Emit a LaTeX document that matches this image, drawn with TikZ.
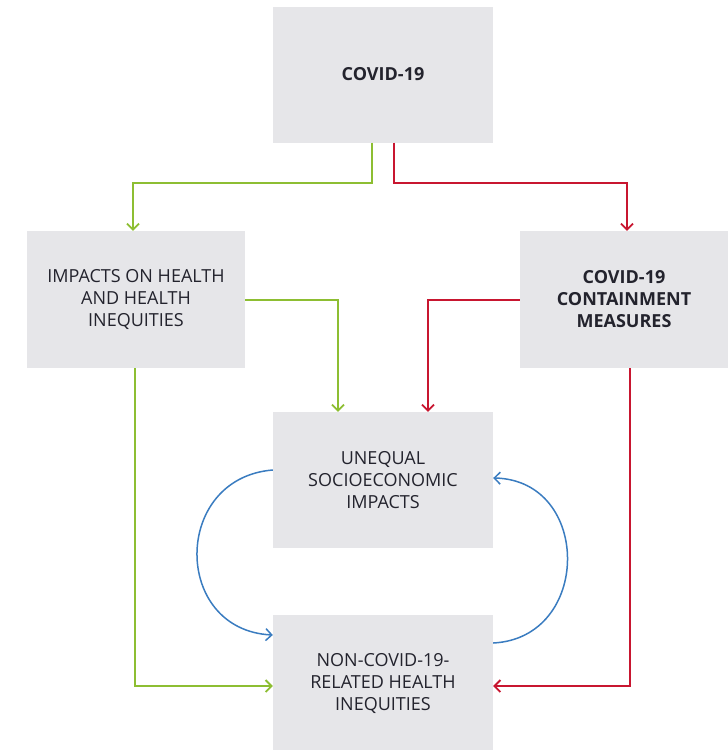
\documentclass[tikz,border=0pt]{standalone}
\usepackage{fontspec}
\setmainfont{Open Sans}
\usepackage{xcolor}
\usepackage{tikz}
\usetikzlibrary{arrows.meta, positioning, calc}
\definecolor{boxgrey}{RGB}{230,230,233}
\definecolor{hgreen}{RGB}{141,190,50}
\definecolor{hred}{RGB}{200,22,48}
\definecolor{hblue}{RGB}{58,124,192}
\definecolor{txt}{RGB}{35,35,45}

\begin{document}
\begin{tikzpicture}[x=1pt,y=-1pt,
	box/.style={fill=boxgrey, draw=none, minimum width=220pt, minimum height=136pt, align=center, text=txt, font=\fontsize{18}{22}\selectfont, inner sep=0pt},
	flow/.style={line width=1.8pt, -{Straight Barb[length=6pt,width=12pt]}},
	greenflow/.style={flow, hgreen},
	redflow/.style={flow, hred},
	blueflow/.style={flow, hblue, line width=1.5pt}]
	\useasboundingbox (0,0) rectangle (728,750);
	% boxes
	\node[box] (covid) at (383,74.5) {\textbf{COVID-19}};
	\node[box, minimum width=218pt, minimum height=137pt] (health) at (136,299.5) {IMPACTS ON HEALTH\\AND HEALTH\\INEQUITIES};
	\node[box, minimum width=208pt, minimum height=137pt] (contain) at (624,299.5) {\textbf{COVID-19}\\\textbf{CONTAINMENT}\\\textbf{MEASURES}};
	\node[box] (unequal) at (383,480) {UNEQUAL\\SOCIOECONOMIC\\IMPACTS};
	\node[box] (noncovid) at (383,683) {NON-COVID-19-\\RELATED HEALTH\\INEQUITIES};
	% top branches
	\draw[greenflow] (covid.south -| 372,0) |- (250,183) -| (health.north -| 133,0);
	\draw[redflow] (covid.south -| 394,0) |- (500,183) -| (contain.north -| 627,0);
	% into unequal impacts
	\draw[greenflow] (health.east |- 0,300) -| (unequal.north -| 338,0);
	\draw[redflow] (contain.west |- 0,300) -| (unequal.north -| 428,0);
	% into non-covid inequities
	\draw[greenflow] (health.south -| 135,0) |- (noncovid.west |- 0,686);
	\draw[redflow] (contain.south -| 630,0) |- (noncovid.east |- 0,686);
	% feedback loop
	\draw[blueflow] (unequal.west |- 0,470) .. controls (172,478) and (172,630) .. (noncovid.west |- 0,635);
	\draw[blueflow] (noncovid.east |- 0,643) .. controls (592,638) and (592,480) .. (unequal.east |- 0,478);
\end{tikzpicture}
\end{document}
